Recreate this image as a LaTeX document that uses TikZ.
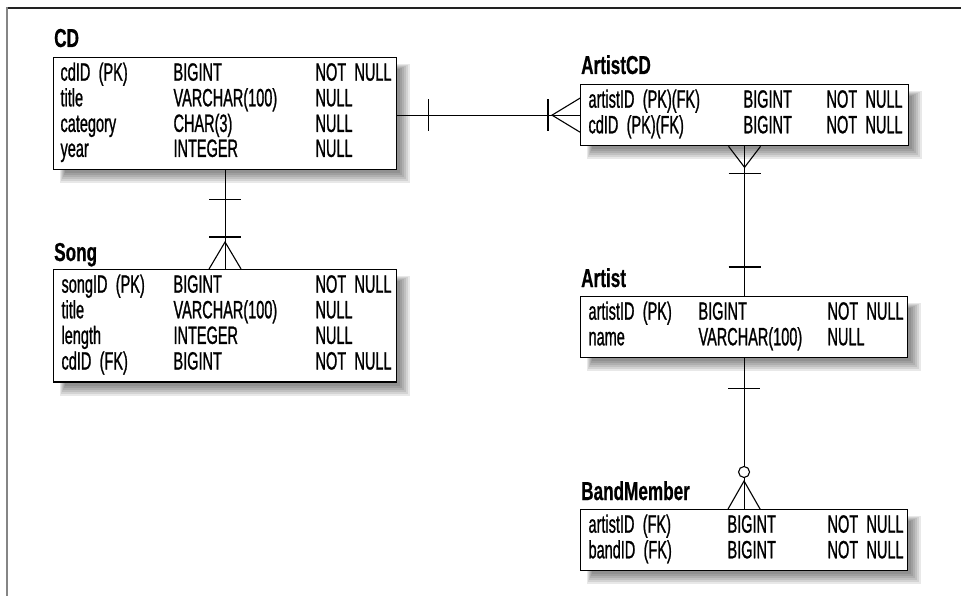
\documentclass[tikz,border=0pt]{standalone}
\usepackage{fontspec}
\setmainfont{Liberation Sans}[FakeStretch=0.58, FakeBold=0.9, WordSpace=0.45]
\newfontfamily\ttlfont{Liberation Sans}[FakeStretch=0.66, FakeBold=0.6]
\usepackage{tikz}
\usetikzlibrary{positioning,calc,backgrounds}
\definecolor{frame}{HTML}{222222}
\definecolor{frameside}{HTML}{858585}

\newcommand{\ertab}[3]{\begin{tabular}{@{}p{#1}@{}p{#2}@{}l@{}}#3\end{tabular}}

\begin{document}
\begin{tikzpicture}[x=1pt, y=-1pt,
  tbl/.style={rectangle, draw=black, fill=white, anchor=north west, line width=1.1pt, inner ysep=5pt, font=\fontsize{25}{25}\selectfont},
  ttl/.style={anchor=base west, inner sep=0pt, font=\ttlfont\bfseries\fontsize{26}{26}\selectfont},
  rel/.style={black, line width=1.1pt}
]
\useasboundingbox (0,0) rectangle (961,596);
\draw[frame, line width=1.5pt] (7,8) -- (961,8);
\draw[frameside, line width=2pt] (7,7.3) -- (7,596);

% tables
\node[tbl, inner xsep=7pt, text width=329pt] (cd) at (53,57)
  {\ertab{113pt}{142pt}{cdID (PK) & BIGINT & NOT NULL\\ title & VARCHAR(100) & NULL\\ category & CHAR(3) & NULL\\ year & INTEGER & NULL}};
\node[tbl, inner xsep=8pt, text width=327pt] (song) at (53,269)
  {\ertab{112pt}{142pt}{songID (PK) & BIGINT & NOT NULL\\ title & VARCHAR(100) & NULL\\ length & INTEGER & NULL\\ cdID (FK) & BIGINT & NOT NULL}};
\node[tbl, inner xsep=8pt, text width=312pt] (acd) at (580,84)
  {\ertab{155pt}{83pt}{artistID (PK)(FK) & BIGINT & NOT NULL\\ cdID (PK)(FK) & BIGINT & NOT NULL}};
\node[tbl, inner xsep=8pt, text width=311pt] (artist) at (580,296)
  {\ertab{110pt}{129pt}{artistID (PK) & BIGINT & NOT NULL\\ name & VARCHAR(100) & NULL}};
\node[tbl, inner xsep=8pt, text width=311pt] (band) at (580,509)
  {\ertab{139pt}{100pt}{artistID (FK) & BIGINT & NOT NULL\\ bandID (FK) & BIGINT & NOT NULL}};

\node[ttl] (cdT) at ($(cd.north west)+(1,-10)$) {CD};
\node[ttl] (songT) at ($(song.north west)+(1,-8)$) {Song};
\node[ttl] (acdT) at ($(acd.north west)+(1,-10)$) {ArtistCD};
\node[ttl] (artistT) at ($(artist.north west)+(1,-9)$) {Artist};
\node[ttl] (bandT) at ($(band.north west)+(1,-9)$) {BandMember};

\begin{scope}[on background layer]
\foreach \t in {cd,song,acd,artist,band}
  \foreach \k in {1,...,6}
    \fill[black, opacity=0.09] ($(\t.north west)+(13-\k,13-\k)$) rectangle ($(\t.south east)+(1+2*\k,1+2*\k)$);
\end{scope}

% CD -- ArtistCD
\draw[rel] (cd.east |- acd.west) -- (acd.west);
\draw[rel] ($(cd.east |- acd.west)+(31,-16)$) -- ++(0,32);
\draw[rel] ($(acd.west)+(-32,-16)$) -- ++(0,32);
\draw[rel] ($(acd.west)+(0,-17)$) -- ++(-28,17) -- ++(28,17);

% CD -- Song
\draw[rel] (cd.south) -- (song.north);
\draw[rel] ($(cd.south)+(-16,30)$) -- ++(32,0);
\draw[rel] ($(song.north)+(-16,-32)$) -- ++(32,0);
\draw[rel] ($(song.north)+(-16,0)$) -- ++(16,-27) -- ++(16,27);

% ArtistCD -- Artist
\draw[rel] (acd.south) -- (acd.south |- artist.north);
\draw[rel] ($(acd.south)+(-16,0)$) -- ++(16,21) -- ++(16,-21);
\draw[rel] ($(acd.south)+(-16,27)$) -- ++(32,0);
\draw[rel] ($(acd.south |- artist.north)+(-16,-29)$) -- ++(32,0);

% Artist -- BandMember
\draw[rel] (artist.south) -- (band.north);
\draw[rel] ($(artist.south)+(-16,30)$) -- ++(32,0);
\draw[rel] ($(band.north)+(-16,0)$) -- ++(16,-28) -- ++(16,28);
\draw[rel, fill=white] ($(band.north)+(0,-37)$) circle (5.5);
\end{tikzpicture}
\end{document}
